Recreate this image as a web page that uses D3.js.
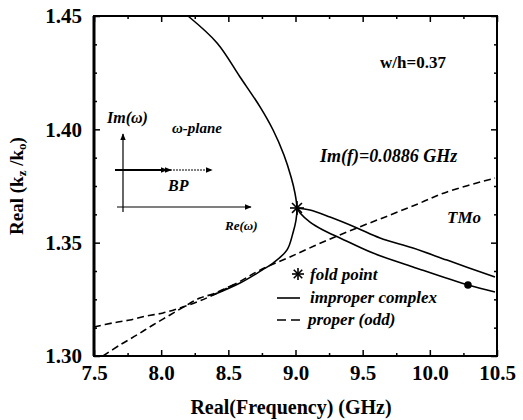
<!DOCTYPE html>
<html>
<head>
<meta charset="utf-8">
<script src="https://cdn.jsdelivr.net/npm/d3@7"></script>
<style>
  body { margin: 0; background: #fff; }
  svg { display: block; }
</style>
</head>
<body>
<svg width="523" height="420"></svg>
<script>
// tick values
var xTicks = [7.5, 8.0, 8.5, 9.0, 9.5, 10.0, 10.5];
var xMinor = [7.75, 8.25, 8.75, 9.25, 9.75, 10.25];
var yTicks = [1.30, 1.35, 1.40, 1.45];
var yMinor = [1.3125, 1.325, 1.3375, 1.3625, 1.375, 1.3875, 1.4125, 1.425, 1.4375];

// improper complex branch with the fold (C shape), [freq, kz/k0]
var cBranch = [[8.200, 1.4500], [8.416, 1.4381], [8.587, 1.4231], [8.736, 1.4099], [8.833, 1.3997],
    [8.914, 1.3887], [8.967, 1.3790], [8.996, 1.3719], [9.011, 1.3653], [9.004, 1.3600],
    [8.981, 1.3543], [8.937, 1.3468], [8.833, 1.3410], [8.751, 1.3379], [8.587, 1.3322], [8.386, 1.3269]];
// two improper branches leaving the fold point to the right
var upperBranch = [[9.011, 1.3653], [9.108, 1.3644], [9.257, 1.3613], [9.458, 1.3565], [9.629, 1.3521],
    [9.875, 1.3476], [10.128, 1.3423], [10.485, 1.3348]];
var lowerBranch = [[9.011, 1.3653], [9.034, 1.3631], [9.108, 1.3591], [9.205, 1.3556], [9.331, 1.3521],
    [9.577, 1.3454], [9.875, 1.3393], [10.284, 1.3313], [10.485, 1.3282]];
// proper (odd) modes, dashed
var properA = [[7.500, 1.3128], [7.641, 1.3146], [7.768, 1.3159], [7.895, 1.3177], [8.014, 1.3190],
    [8.140, 1.3212], [8.267, 1.3238], [8.386, 1.3269], [8.565, 1.3322], [8.736, 1.3379], [8.959, 1.3437],
    [9.205, 1.3503], [9.458, 1.3565], [9.704, 1.3622], [9.927, 1.3675], [10.128, 1.3724], [10.485, 1.3785]];
var properB = [[7.567, 1.3000], [7.694, 1.3049], [7.820, 1.3093], [7.939, 1.3137], [8.066, 1.3181],
    [8.192, 1.3225], [8.289, 1.3256], [8.386, 1.3274], [8.565, 1.3322]];
var foldPoint = [9.011, 1.3653];
var dotPoint = [10.284, 1.3313];

var SERIF = "Liberation Serif, DejaVu Serif, serif";

var svg = d3.select("svg");
var margin = {"top": 16, "right": 26, "bottom": 64, "left": 94};
var x0 = margin.left, x1 = +svg.attr("width") - margin.right;
var y0 = margin.top, y1 = +svg.attr("height") - margin.bottom;

var x = d3.scaleLinear().domain([7.5, 10.5]).range([x0, x1]);
var y = d3.scaleLinear().domain([1.30, 1.45]).range([y1, y0]);

var line = d3.line()
    .x(function (d) { return x(d[0]); })
    .y(function (d) { return y(d[1]); })
    .curve(d3.curveCatmullRom);

function label(px, py, str, size, italic) {
    return svg.append("text")
        .attr("x", px).attr("y", py)
        .attr("font-family", SERIF)
        .attr("font-weight", "bold")
        .attr("font-style", italic ? "italic" : "normal")
        .attr("font-size", size)
        .attr("fill", "#000")
        .text(str);
}

// frame
svg.append("rect")
    .attr("x", x0).attr("y", y0)
    .attr("width", x1 - x0).attr("height", y1 - y0)
    .attr("fill", "none").attr("stroke", "#000").attr("stroke-width", 2);
svg.append("line")
    .attr("x1", x0).attr("x2", x0).attr("y1", y0).attr("y2", y1)
    .attr("stroke", "#000").attr("stroke-width", 3);

function tickAxis(axis, pos, values, size, labels) {
    var a = axis.tickValues(values).tickSizeInner(size).tickSizeOuter(0);
    if (!labels) a.tickFormat("");
    var g = svg.append("g").attr("transform", pos).call(a)
        .attr("font-family", SERIF)
        .attr("font-weight", "bold")
        .attr("font-size", 21);
    g.select(".domain").remove();
    g.selectAll("line").attr("stroke", "#000").attr("stroke-width", 1.5);
    g.selectAll("text").attr("fill", "#000");
    return g;
}

tickAxis(d3.axisBottom(x).tickPadding(9).tickFormat(d3.format(".1f")), "translate(0," + y1 + ")", xTicks, -6, true);
tickAxis(d3.axisBottom(x), "translate(0," + y1 + ")", xMinor, -3, false);
tickAxis(d3.axisTop(x), "translate(0," + y0 + ")", xTicks, -6, false);
tickAxis(d3.axisTop(x), "translate(0," + y0 + ")", xMinor, -3, false);
tickAxis(d3.axisLeft(y).tickPadding(12).tickFormat(d3.format(".2f")), "translate(" + x0 + ",0)", yTicks, -6, true);
tickAxis(d3.axisLeft(y), "translate(" + x0 + ",0)", yMinor, -3, false);
tickAxis(d3.axisRight(y), "translate(" + x1 + ",0)", yTicks, -6, false);
tickAxis(d3.axisRight(y), "translate(" + x1 + ",0)", yMinor, -3, false);

// axis titles
label(291, 414, "Real(Frequency) (GHz)", 20, false).attr("text-anchor", "middle");

var yt = label(0, 0, "", 19, false)
    .attr("transform", "translate(23,186) rotate(-90)")
    .attr("text-anchor", "middle");
yt.append("tspan").text("Real (k");
yt.append("tspan").attr("baseline-shift", "-25%").attr("font-size", 13).text("z");
yt.append("tspan").text(" /k");
yt.append("tspan").attr("baseline-shift", "-25%").attr("font-size", 13).text("o");
yt.append("tspan").text(")");

// curves
var curves = svg.append("g").attr("fill", "none").attr("stroke", "#000").attr("stroke-width", 1.6);
curves.append("path").attr("d", line(cBranch));
curves.append("path").attr("d", line(upperBranch));
curves.append("path").attr("d", line(lowerBranch));
curves.append("path").attr("d", line(properA)).attr("stroke-dasharray", "7,4");
curves.append("path").attr("d", line(properB)).attr("stroke-dasharray", "7,4");

function star(cx, cy, r) {
    var g = svg.append("g").attr("stroke", "#000").attr("stroke-width", 1.6);
    [0, 45, 90, 135].forEach(function (a) {
        var t = a * Math.PI / 180;
        g.append("line")
            .attr("x1", cx - r * Math.cos(t)).attr("y1", cy - r * Math.sin(t))
            .attr("x2", cx + r * Math.cos(t)).attr("y2", cy + r * Math.sin(t));
    });
}
star(x(foldPoint[0]), y(foldPoint[1]), 7);

svg.append("circle")
    .attr("cx", x(dotPoint[0])).attr("cy", y(dotPoint[1]))
    .attr("r", 3.8).attr("fill", "#000");

// annotations
label(380, 68, "w/h=0.37", 17, false);
label(320, 162, "Im(f)=0.0886 GHz", 18, true);
label(447, 223, "TMo", 17, true);

// omega-plane inset
var defs = svg.append("defs");
defs.append("marker")
    .attr("id", "arr").attr("viewBox", "0 0 10 10")
    .attr("refX", 9).attr("refY", 5)
    .attr("markerWidth", 7).attr("markerHeight", 7)
    .attr("markerUnits", "userSpaceOnUse")
    .attr("orient", "auto")
    .append("path").attr("d", "M0,1L10,5L0,9Z").attr("fill", "#000");

var inset = svg.append("g").attr("stroke", "#000");
inset.append("line").attr("x1", 123).attr("y1", 212).attr("x2", 123).attr("y2", 134)
    .attr("stroke-width", 1.2).attr("marker-end", "url(#arr)");
inset.append("line").attr("x1", 117).attr("y1", 207).attr("x2", 251).attr("y2", 207)
    .attr("stroke-width", 1.2).attr("marker-end", "url(#arr)");
inset.append("line").attr("x1", 115).attr("y1", 170).attr("x2", 167).attr("y2", 170)
    .attr("stroke-width", 1.8).attr("marker-end", "url(#arr)");
inset.append("line").attr("x1", 163).attr("y1", 170).attr("x2", 171).attr("y2", 170)
    .attr("stroke-width", 1.2).attr("marker-end", "url(#arr)");
inset.append("line").attr("x1", 167).attr("y1", 170).attr("x2", 212).attr("y2", 170)
    .attr("stroke-width", 1).attr("stroke-dasharray", "2,1").attr("marker-end", "url(#arr)");

label(107, 123, "Im(ω)", 16, true);
label(172, 133, "ω-plane", 15, true);
label(168, 191, "BP", 16, true);
label(225, 230, "Re(ω)", 13, true);

// legend
star(298, 274, 6);
label(310, 280, "fold point", 17, true);
svg.append("line").attr("x1", 277).attr("x2", 300).attr("y1", 298).attr("y2", 298)
    .attr("stroke", "#000").attr("stroke-width", 1.6);
label(310, 303, "improper complex", 17, true);
svg.append("line").attr("x1", 277).attr("x2", 300).attr("y1", 320).attr("y2", 320)
    .attr("stroke", "#000").attr("stroke-width", 1.6).attr("stroke-dasharray", "9,5");
label(308, 325, "proper (odd)", 17, true);
</script>
</body>
</html>
